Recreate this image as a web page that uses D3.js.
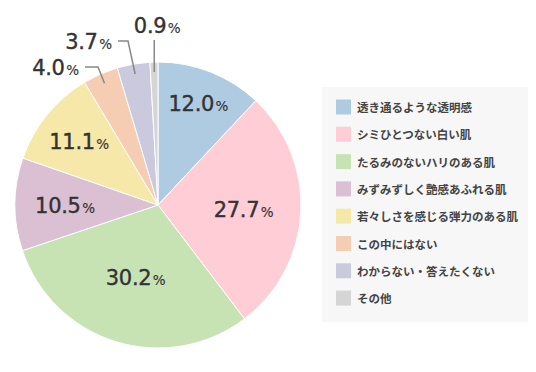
<!DOCTYPE html>
<html>
<head>
<meta charset="utf-8">
<script src="https://cdnjs.cloudflare.com/ajax/libs/d3/7.8.5/d3.min.js"></script>
<style>
  body { margin: 0; background: #fff; }
</style>
</head>
<body>
<div id="graph"></div>
<script>
var categories = ["透き通るような透明感", "シミひとつない白い肌", "たるみのないハリのある肌",
    "みずみずしく艶感あふれる肌", "若々しさを感じる弾力のある肌", "この中にはない",
    "わからない・答えたくない", "その他"];
var values = [12.0, 27.7, 30.2, 10.5, 11.1, 4.0, 3.7, 0.9];
var colors = ["#aecbe2", "#fecdd6", "#c7e3b4", "#dbbfd2", "#f6e8a8", "#f4cdb2", "#cbc9de", "#d5d5d5"];

var svgWidth = 536;
var svgHeight = 372;
var center = [158, 205];
var radius = 143;

// label radius as fraction of radius (inside labels), null = outside with leader
var labelR = [0.77, 0.6, 0.53, 0.65, 0.71, null, null, null];

var $svg = d3.select("#graph").append("svg")
    .attr("width", svgWidth)
    .attr("height", svgHeight);

var pie = d3.pie().sort(null).value(d => d);
var arcs = pie(values);
var arc = d3.arc().innerRadius(0).outerRadius(radius);

var $pie = $svg.append("g").attr("transform", `translate(${center[0]},${center[1]})`);

$pie.selectAll("path.slice")
    .data(arcs)
    .enter().append("path")
    .attr("class", "slice")
    .attr("d", arc)
    .attr("fill", (d, i) => colors[i])
    .attr("stroke", "#fff")
    .attr("stroke-width", 1);

function pt(angle, r) {
    return [r * Math.sin(angle), -r * Math.cos(angle)];
}

var numFont = "'DejaVu Sans', sans-serif";

function addLabel(g, x, y, v, anchor) {
    var t = g.append("text")
        .attr("x", x)
        .attr("y", y)
        .attr("text-anchor", anchor)
        .attr("fill", "#333")
        .attr("stroke", "#333")
        .attr("font-family", numFont);
    t.append("tspan").attr("font-size", 21).attr("stroke-width", 0.4)
        .attr("letter-spacing", -0.3).text(v.toFixed(1));
    t.append("tspan").attr("font-size", 13.5).attr("stroke-width", 0.15)
        .attr("dx", 1.5).text("%");
}

arcs.forEach((d, i) => {
    var mid = (d.startAngle + d.endAngle) / 2;
    if (labelR[i] != null) {
        var p = pt(mid, radius * labelR[i]);
        addLabel($pie, p[0], p[1] + 8, d.value, "middle");
    }
});

// outside labels with leader lines
var leaderR = radius - 10;
var outside = [
    { i: 5, elbow: [-60, -138], end: [-73, -138] },
    { i: 6, elbow: [-30, -164], end: [-40, -164] },
    { i: 7, elbow: null, end: [-5, -165] }
];
outside.forEach(o => {
    var d = arcs[o.i];
    var mid = (d.startAngle + d.endAngle) / 2;
    var p = pt(mid, leaderR);
    var pts = o.elbow ? [p, o.elbow, o.end] : [p, [p[0], o.end[1]]];
    $pie.append("path")
        .attr("d", d3.line()(pts))
        .attr("fill", "none")
        .attr("stroke", "#888")
        .attr("stroke-width", 1.5);
    if (o.elbow) {
        addLabel($pie, o.end[0] - 6, o.end[1] + 8, d.value, "end");
    } else {
        addLabel($pie, p[0] + 3, o.end[1] - 7, d.value, "middle");
    }
});

// legend
var legX = 322, legY = 87, legW = 206, legH = 235;
var $leg = $svg.append("g");
$leg.append("rect")
    .attr("x", legX).attr("y", legY)
    .attr("width", legW).attr("height", legH)
    .attr("fill", "#f7f7f7");

var rowY = d3.scalePoint().domain(d3.range(categories.length)).range([legY + 20, legY + 20 + 27.3 * 7]);

categories.forEach((c, i) => {
    $leg.append("rect")
        .attr("x", legX + 14)
        .attr("y", rowY(i) - 7.5)
        .attr("width", 15).attr("height", 15)
        .attr("fill", colors[i]);
    $leg.append("text")
        .attr("x", legX + 35)
        .attr("y", rowY(i))
        .attr("dominant-baseline", "central")
        .attr("font-family", "'Noto Sans CJK JP', sans-serif")
        .attr("font-size", 11.5)
        .attr("font-weight", 700)
        .attr("fill", "#444")
        .text(c);
});
</script>
</body>
</html>
